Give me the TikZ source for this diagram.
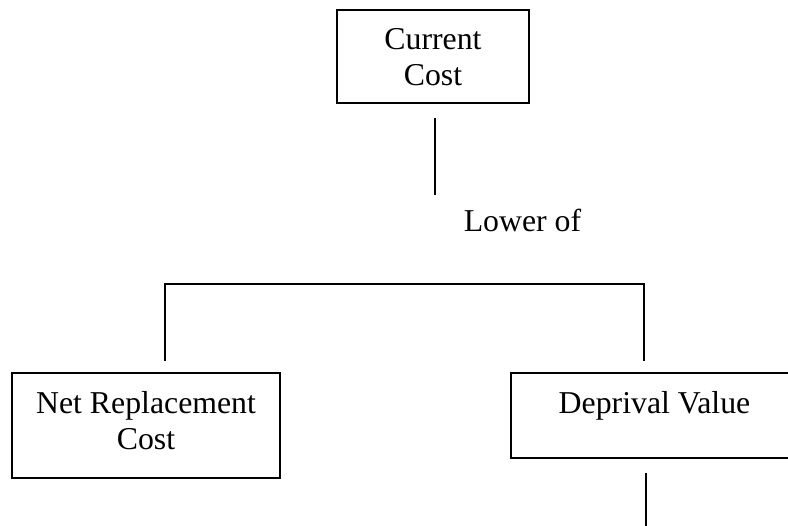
\documentclass[tikz,border=0pt]{standalone}
\usepackage{fontspec}
\setmainfont{Liberation Serif}
\usetikzlibrary{positioning}

\begin{document}
\begin{tikzpicture}[x=1pt, y=-1pt, line width=1.5pt,
  box/.style={draw, rectangle, inner sep=0pt},
  txt/.style={inner sep=0pt, align=center, font=\fontsize{31.8}{36}\selectfont}]
  \useasboundingbox (0,0) rectangle (788,526);

  \node (cur) [box, minimum width=192pt, minimum height=93pt] at (433,56.5) {};
  \node (curtxt) [txt, below=18.5pt of cur.north] {Current\\Cost};

  \node (net) [box, minimum width=268pt, minimum height=105pt] at (146,425.5) {};
  \node (nettxt) [txt, below=18.5pt of net.north] {Net Replacement\\Cost};

  \node (dep) [box, minimum width=287pt, minimum height=85pt] at (654.5,415.5) {};
  \node (deptxt) [txt, below=18.5pt of dep.north] {Deprival Value};

  \node (lower) [txt, anchor=base west] at (463,232) {Lower of};

  \coordinate (curout) at (435,118);
  \coordinate (curend) at (435,195);
  \coordinate (barL) at (165,284);
  \coordinate (barR) at (644,284);
  \coordinate (netin) at (165,361);
  \coordinate (depin) at (644,361);
  \coordinate (depout) at (646,473);
  \coordinate (depend) at (646,530);

  \draw (curout) -- (curend);
  \draw (netin) -- (barL) -- (barR) -- (depin);
  \draw (depout) -- (depend);
\end{tikzpicture}
\end{document}
